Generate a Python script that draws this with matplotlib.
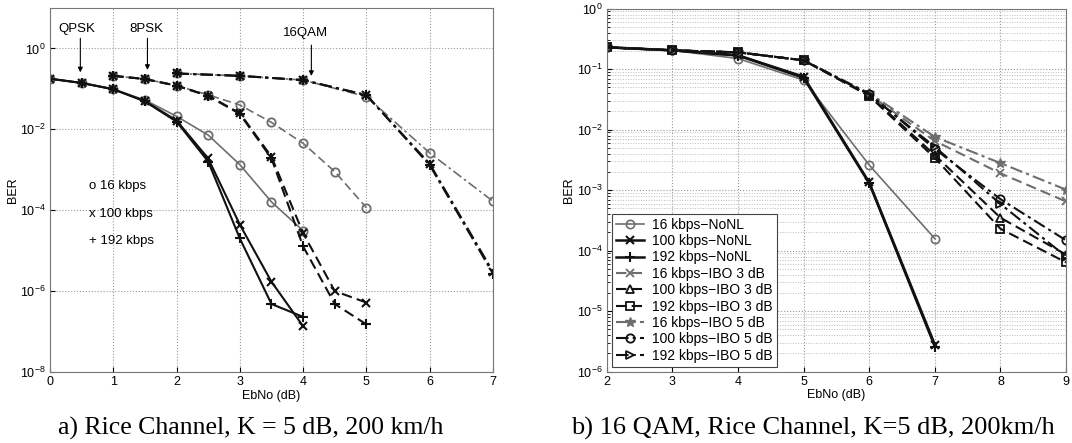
import matplotlib
matplotlib.use("Agg")
import matplotlib.pyplot as plt

plt.rcParams['font.family'] = ['Liberation Sans', 'DejaVu Sans']
plt.rcParams['font.size'] = 9

# ---- left panel data (a) ----
ebno_qpsk = [0, 0.5, 1, 1.5, 2, 2.5, 3, 3.5, 4]
qpsk_16 = [0.178, 0.14, 0.098, 0.053, 0.021, 0.0072, 0.00134, 1.6e-4, 3.1e-5]
qpsk_100 = [0.178, 0.14, 0.098, 0.050, 0.0165, 0.0019, 4.4e-5, 1.7e-6, 1.35e-7]
qpsk_192 = [0.178, 0.14, 0.098, 0.049, 0.0155, 0.0016, 2.0e-5, 4.8e-7, 2.3e-7]

ebno_8psk = [1, 1.5, 2, 2.5, 3, 3.5, 4, 4.5, 5]
psk8_16 = [0.21, 0.175, 0.12, 0.071, 0.040, 0.0148, 0.0045, 9e-4, 1.15e-4]
psk8_100 = [0.21, 0.175, 0.12, 0.068, 0.025, 0.0021, 2.7e-5, 1.0e-6, 5.2e-7]
psk8_192 = [0.21, 0.175, 0.12, 0.067, 0.024, 0.0019, 1.27e-5, 4.8e-7, 1.5e-7]

ebno_16qam = [2, 3, 4, 5, 6, 7]
qam_16 = [0.24, 0.21, 0.165, 0.064, 0.0026, 1.66e-4]
qam_100 = [0.24, 0.21, 0.165, 0.070, 0.0014, 3.0e-6]
qam_192 = [0.24, 0.21, 0.165, 0.070, 0.0013, 2.7e-6]

# ---- right panel data (b) ----
ebno_nonl = [2, 3, 4, 5, 6, 7]
nonl_16 = [0.23, 0.205, 0.15, 0.066, 0.0026, 1.58e-4]
nonl_100 = [0.23, 0.205, 0.17, 0.075, 0.00134, 2.8e-6]
nonl_192 = [0.23, 0.205, 0.168, 0.072, 0.0013, 2.6e-6]

ebno_ibo = [2, 3, 4, 5, 6, 7, 8, 9]
ibo3_16 = [0.23, 0.205, 0.19, 0.14, 0.038, 0.0065, 0.0019, 6.5e-4]
ibo3_100 = [0.23, 0.205, 0.19, 0.14, 0.037, 0.0038, 3.5e-4, 8.6e-5]
ibo3_192 = [0.23, 0.205, 0.19, 0.14, 0.036, 0.0034, 2.3e-4, 6.4e-5]
ibo5_16 = [0.23, 0.205, 0.19, 0.14, 0.040, 0.0076, 0.0028, 1.02e-3]
ibo5_100 = [0.23, 0.205, 0.19, 0.14, 0.039, 0.0048, 7.1e-4, 1.48e-4]
ibo5_192 = [0.23, 0.205, 0.19, 0.14, 0.038, 0.0052, 5.9e-4, 8e-5]

gray = '#6e6e6e'
dark = '#111111'
dashdot = (0, (6, 2, 1.5, 2))
dashed = (0, (5, 2.5))

fig = plt.figure(figsize=(10.72, 4.43), dpi=100)
ax1 = fig.add_axes([0.0466, 0.1603, 0.4133, 0.8217])
ax2 = fig.add_axes([0.566, 0.161, 0.4285, 0.8194])

# left panel
for x, y16, y100, y192, ls in [(ebno_qpsk, qpsk_16, qpsk_100, qpsk_192, '-'),
                               (ebno_8psk, psk8_16, psk8_100, psk8_192, dashed),
                               (ebno_16qam, qam_16, qam_100, qam_192, dashdot)]:
    ax1.plot(x, y16, color=gray, linestyle=ls, marker='o', mfc='none', ms=6, mew=1.3, lw=1.2)
    ax1.plot(x, y100, color=dark, linestyle=ls, marker='x', ms=6, mew=1.5, lw=1.5)
    ax1.plot(x, y192, color=dark, linestyle=ls, marker='+', ms=7, mew=1.5, lw=1.5)

ax1.set_yscale('log')
ax1.set_xlim(0, 7)
ax1.set_ylim(1e-8, 10)
ax1.set_yticks([1e0, 1e-2, 1e-4, 1e-6, 1e-8])
ax1.yaxis.set_minor_locator(matplotlib.ticker.NullLocator())
ax1.grid(True, which='major', linestyle=':', color='#999999', lw=0.8)
ax1.set_xlabel('EbNo (dB)', labelpad=1)
ax1.set_ylabel('BER', labelpad=1)

arrow = dict(arrowstyle='-|>', color='black', lw=0.8, mutation_scale=7)
ax1.annotate('', xy=(0.48, 10**-0.66), xytext=(0.48, 10**0.32), arrowprops=arrow)
ax1.annotate('', xy=(1.54, 10**-0.60), xytext=(1.54, 10**0.32), arrowprops=arrow)
ax1.annotate('', xy=(4.13, 10**-0.75), xytext=(4.13, 10**0.15), arrowprops=arrow)
ax1.text(0.43, 10**0.49, 'QPSK', ha='center', va='center', fontsize=9.5)
ax1.text(1.53, 10**0.49, '8PSK', ha='center', va='center', fontsize=9.5)
ax1.text(4.04, 10**0.37, '16QAM', ha='center', va='center', fontsize=9.5)
ax1.text(0.62, 10**-3.41, 'o 16 kbps', ha='left', va='center', fontsize=9.5)
ax1.text(0.62, 10**-4.10, 'x 100 kbps', ha='left', va='center', fontsize=9.5)
ax1.text(0.62, 10**-4.76, '+ 192 kbps', ha='left', va='center', fontsize=9.5)

# right panel
ax2.plot(ebno_nonl, nonl_16, color=gray, linestyle='-', marker='o', mfc='none', ms=6, mew=1.2, lw=1.2, label='16 kbps\u2212NoNL')
ax2.plot(ebno_nonl, nonl_100, color=dark, linestyle='-', marker='x', ms=6, mew=1.5, lw=1.8, label='100 kbps\u2212NoNL')
ax2.plot(ebno_nonl, nonl_192, color=dark, linestyle='-', marker='+', ms=7, mew=1.5, lw=1.8, label='192 kbps\u2212NoNL')
ax2.plot(ebno_ibo, ibo3_16, color=gray, linestyle=dashed, marker='x', ms=6, mew=1.3, lw=1.5, label='16 kbps\u2212IBO 3 dB')
ax2.plot(ebno_ibo, ibo3_100, color=dark, linestyle=dashed, marker='^', mfc='none', ms=6, mew=1.3, lw=1.5, label='100 kbps\u2212IBO 3 dB')
ax2.plot(ebno_ibo, ibo3_192, color=dark, linestyle=dashed, marker='s', mfc='none', ms=5.5, mew=1.3, lw=1.5, label='192 kbps\u2212IBO 3 dB')
ax2.plot(ebno_ibo, ibo5_16, color=gray, linestyle=dashdot, marker='*', ms=7, mew=1.0, lw=1.5, label='16 kbps\u2212IBO 5 dB')
ax2.plot(ebno_ibo, ibo5_100, color=dark, linestyle=dashdot, marker='o', mfc='none', ms=6, mew=1.3, lw=1.5, label='100 kbps\u2212IBO 5 dB')
ax2.plot(ebno_ibo, ibo5_192, color=dark, linestyle=dashdot, marker='>', mfc='none', ms=6, mew=1.3, lw=1.5, label='192 kbps\u2212IBO 5 dB')

ax2.set_yscale('log')
ax2.set_xlim(2, 9)
ax2.set_ylim(1e-6, 1)
ax2.set_yticks([1e0, 1e-1, 1e-2, 1e-3, 1e-4, 1e-5, 1e-6])
ax2.grid(True, which='major', linestyle=':', color='#999999', lw=0.8)
ax2.grid(True, which='minor', axis='y', linestyle=':', color='#bbbbbb', lw=0.7)
ax2.set_xlabel('EbNo (dB)', labelpad=1)
ax2.set_ylabel('BER', labelpad=1)
leg = ax2.legend(loc='lower left', fontsize=10, frameon=True, fancybox=False,
                 edgecolor='#444444', framealpha=1, handlelength=2.0,
                 labelspacing=0.17, borderpad=0.3, handletextpad=0.6,
                 borderaxespad=0.35)
leg.get_frame().set_linewidth(0.8)

for ax in (ax1, ax2):
    ax.tick_params(which='both', direction='in', labelsize=9, pad=3)
    ax.tick_params(which='minor', length=2)
    for s in ax.spines.values():
        s.set_color('#777777')
        s.set_linewidth(0.8)

fig.text(251 / 1072, 1 - 428 / 443, 'a) Rice Channel, K = 5 dB, 200 km/h',
         ha='center', va='center', fontsize=18.5, family='Liberation Serif')
fig.text(813 / 1072, 1 - 428 / 443, 'b) 16 QAM, Rice Channel, K=5 dB, 200km/h',
         ha='center', va='center', fontsize=19, family='Liberation Serif')

fig.savefig('out.png', dpi=100)
